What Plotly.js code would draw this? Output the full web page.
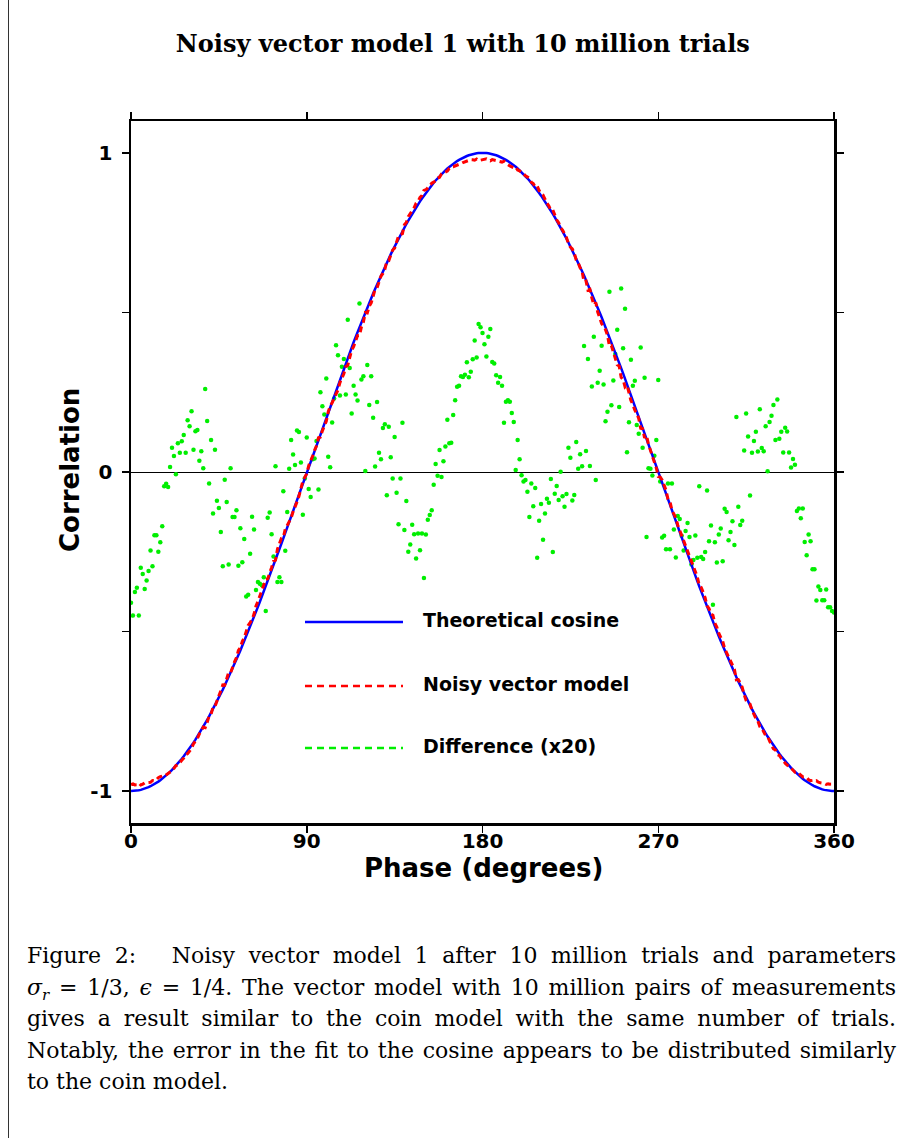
<!DOCTYPE html>
<html>
<head>
<meta charset="utf-8">
<script src="https://cdn.plot.ly/plotly-3.0.1.min.js"></script>
<style>
  html, body { margin: 0; padding: 0; background: #fff; }
  #wrap { position: relative; width: 904px; height: 1138px; overflow: hidden; }
  #chart { position: absolute; left: 0; top: 0; width: 904px; height: 1138px; }
  #frame { position: absolute; left: 7.5px; top: 0; width: 1.5px; height: 1138px; background: #333; }
  #caption { position: absolute; left: 27px; top: 940px; width: 869px;
             font-family: "DejaVu Serif", "Liberation Serif", serif; font-size: 22px;
             line-height: 31.5px; color: #000; }
  #caption .j { display: block; white-space: nowrap; text-align: justify; text-align-last: justify; }
  #caption .l { display: block; white-space: nowrap; text-align: left; }
  #caption i { font-style: italic; }
  #caption .gap { display: inline-block; width: 22px; }
</style>
</head>
<body>
<div id="wrap">
  <div id="chart"></div>
  <div id="frame"></div>
  <div id="caption">
    <span class="j">Figure 2:<span class="gap"></span> Noisy vector model 1 after 10 million trials and parameters</span>
    <span class="j"><i>σ<sub style="font-size:15px;line-height:0">r</sub></i> = 1/3, <i>ϵ</i> = 1/4. The vector model with 10 million pairs of measurements</span>
    <span class="j">gives a result similar to the coin model with the same number of trials.</span>
    <span class="j">Notably, the error in the fit to the cosine appears to be distributed similarly</span>
    <span class="l">to the coin model.</span>
  </div>
</div>
<script>
// Difference (x20) between theoretical cosine and noisy vector model, one value per degree 0..360
const difference = [
 -0.41,-0.45,-0.376,-0.363,-0.45,-0.30,-0.32,-0.367,-0.34,-0.31,
 -0.246,-0.295,-0.198,-0.198,-0.25,-0.22,-0.17,-0.045,-0.037,-0.047,
 0.016,0.076,0.05,-0.007,0.09,0.06,0.096,0.116,0.06,0.162,
 0.143,0.19,0.07,0.128,0.132,0.035,0.065,0.012,0.26,0.16,
 -0.036,0.10,-0.13,0.07,-0.09,-0.113,-0.188,-0.295,-0.024,-0.094,
 -0.29,0.012,-0.141,-0.141,-0.12,-0.294,-0.176,-0.283,-0.21,-0.39,
 -0.385,-0.256,-0.14,-0.18,-0.37,-0.345,-0.35,-0.355,-0.33,-0.436,
 -0.143,-0.127,-0.195,-0.265,0.018,-0.345,-0.33,-0.345,-0.06,-0.247,
 -0.125,0.01,0.10,0.055,0.022,0.13,0.125,0.03,-0.134,-0.02,
 0.108,-0.053,-0.078,0.04,0.042,0.097,-0.055,0.25,0.206,0.18,
 0.293,0.048,0.015,0.155,0.23,0.397,0.366,0.24,0.33,0.354,
 0.243,0.477,0.326,0.183,0.27,0.243,0.224,0.528,0.29,0.30,
 0.003,0.335,0.21,0.30,0.17,0.017,0.219,0.06,0.04,0.138,
 0.15,-0.073,0.142,0.046,-0.02,0.11,-0.065,-0.164,-0.02,0.154,
 -0.182,-0.091,-0.25,-0.227,-0.165,-0.195,-0.271,-0.193,-0.245,-0.193,
 -0.332,-0.196,-0.15,-0.135,-0.12,-0.04,0.025,-0.012,0.069,-0.016,
 0.034,0.08,0.164,0.09,0.092,0.179,0.225,0.267,0.27,0.30,
 0.298,0.305,0.344,0.297,0.314,0.353,0.412,0.359,0.464,0.454,
 0.436,0.40,0.362,0.424,0.448,0.345,0.34,0.303,0.28,0.298,
 0.27,0.154,0.22,0.225,0.22,0.185,0.157,0.006,0.10,0.04,
 -0.01,-0.03,-0.025,-0.062,-0.141,-0.036,-0.107,-0.05,-0.269,-0.153,
 -0.10,-0.212,-0.13,-0.084,-0.096,-0.022,-0.251,-0.068,-0.044,-0.088,
 0.001,-0.076,-0.109,-0.069,0.076,0.045,-0.089,-0.072,0.094,0.01,
 0.056,0.018,0.395,0.066,0.354,0.019,0.268,0.424,-0.025,0.28,
 0.317,0.396,0.274,0.159,0.189,0.565,0.209,0.287,0.37,0.446,
 0.204,0.575,0.388,0.512,0.062,0.156,0.352,0.27,0.286,0.147,
 0.12,0.39,0.076,0.295,-0.204,0.012,0.01,-0.011,0.051,0.10,
 0.288,-0.03,-0.205,-0.2,-0.242,-0.036,-0.242,-0.036,-0.18,-0.268,
 -0.138,-0.147,-0.2,-0.246,-0.185,-0.16,-0.204,-0.29,-0.276,-0.199,
 -0.269,-0.045,-0.266,-0.273,-0.251,-0.058,-0.217,-0.168,-0.416,-0.22,
 -0.284,-0.196,-0.177,-0.28,-0.115,-0.125,-0.214,-0.188,-0.154,-0.229,
 0.172,-0.109,-0.166,-0.153,0.067,0.183,0.111,-0.074,0.06,0.097,
 0.126,0.064,0.197,0.075,0.065,0.143,0.002,0.157,0.176,0.21,
 0.10,0.227,0.104,0.126,0.061,0.139,0.127,0.061,0.014,0.041,
 0.023,-0.122,-0.114,-0.145,-0.114,-0.219,-0.261,-0.196,-0.217,-0.305,
 -0.305,-0.403,-0.359,-0.37,-0.402,-0.402,-0.368,-0.424,-0.424,-0.436,
 -0.44
];
const phase = difference.map((_, i) => i);               // degrees 0..360
const scaleFactor = 20;
const theoretical = phase.map(d => -Math.cos(d * Math.PI / 180));
const noisy = theoretical.map((t, i) => t - difference[i] / scaleFactor);

const xTicks = [0, 90, 180, 270, 360];
const xTickText = ['0', '90', '180', '270', '360'];
const yTicks = [-1, -0.5, 0, 0.5, 1];
const yTickText = ['-1', '', '0', '', '1'];

const legendNames = ['Theoretical cosine', 'Noisy vector model', 'Difference (x20)'];
const colors = { blue: '#0000ff', red: '#ff0000', green: '#00ee00' };

const traces = [
  { x: phase, y: difference, mode: 'markers', type: 'scatter',
    marker: { color: colors.green, size: 4.5 }, showlegend: false, hoverinfo: 'skip' },
  { x: phase, y: theoretical, mode: 'lines', type: 'scatter',
    line: { color: colors.blue, width: 2.5 }, showlegend: false },
  { x: phase, y: noisy, mode: 'lines', type: 'scatter',
    line: { color: colors.red, width: 3, dash: '6px,4px' }, showlegend: false }
];

const sansBold = { family: 'DejaVu Sans', size: 20, color: '#000', weight: 'bold' };

const legendY = [0.2863, 0.1952, 0.1068];
const legendDash = ['solid', '7px,5px', '7px,5px'];
const legendColor = [colors.blue, colors.red, colors.green];

const shapes = legendY.map((yy, i) => ({
  type: 'line', xref: 'paper', yref: 'paper', x0: 0.2475, x1: 0.3869, y0: yy, y1: yy,
  line: { color: legendColor[i], width: 2.5, dash: legendDash[i] }
}));

const annotations = legendNames.map((n, i) => ({
  text: n, xref: 'paper', yref: 'paper', x: 0.4125, y: legendY[i] + 0.003,
  xanchor: 'left', yanchor: 'middle', showarrow: false,
  font: { family: 'DejaVu Sans', size: 19, color: '#000', weight: 'bold' }
}));
annotations.push({
  text: 'Phase (degrees)', xref: 'paper', yref: 'paper', x: 0.502, y: -0.0641,
  xanchor: 'center', yanchor: 'middle', showarrow: false,
  font: { family: 'DejaVu Sans', size: 26, color: '#000', weight: 'bold' }
});
annotations.push({
  text: 'Correlation', xref: 'paper', yref: 'paper', x: -0.0868, y: 0.5028,
  xanchor: 'center', yanchor: 'middle', textangle: -90, showarrow: false,
  font: { family: 'DejaVu Sans', size: 26, color: '#000', weight: 'bold' }
});

const layout = {
  width: 904, height: 1138,
  margin: { l: 131, r: 70, t: 121, b: 315 },
  paper_bgcolor: '#fff', plot_bgcolor: '#fff',
  title: {
    text: 'Noisy vector model 1 with 10 million trials',
    font: { family: 'DejaVu Serif', size: 24, color: '#000', weight: 'bold' },
    xref: 'paper', x: 0.472, xanchor: 'center',
    yref: 'container', y: 1 - 44 / 1138, yanchor: 'middle'
  },
  xaxis: {
    range: [0, 360], tickvals: xTicks, ticktext: xTickText,
    showgrid: false, zeroline: false, showline: true, linecolor: '#000', linewidth: 2.5,
    mirror: 'ticks', ticks: 'outside', ticklen: 7, tickwidth: 1.5, tickcolor: '#000',
    tickfont: sansBold, ticklabelstandoff: -9
  },
  yaxis: {
    range: [-1.1, 1.1], tickvals: yTicks, ticktext: yTickText,
    showgrid: false, zeroline: true, zerolinecolor: '#000', zerolinewidth: 1,
    showline: true, linecolor: '#000', linewidth: 2.5,
    mirror: 'ticks', ticks: 'outside', ticklen: 7, tickwidth: 1.5, tickcolor: '#000',
    tickfont: sansBold, ticklabelstandoff: 5
  },
  shapes: shapes,
  annotations: annotations
};

Plotly.newPlot('chart', traces, layout, { displayModeBar: false, staticPlot: true });
</script>
</body>
</html>
